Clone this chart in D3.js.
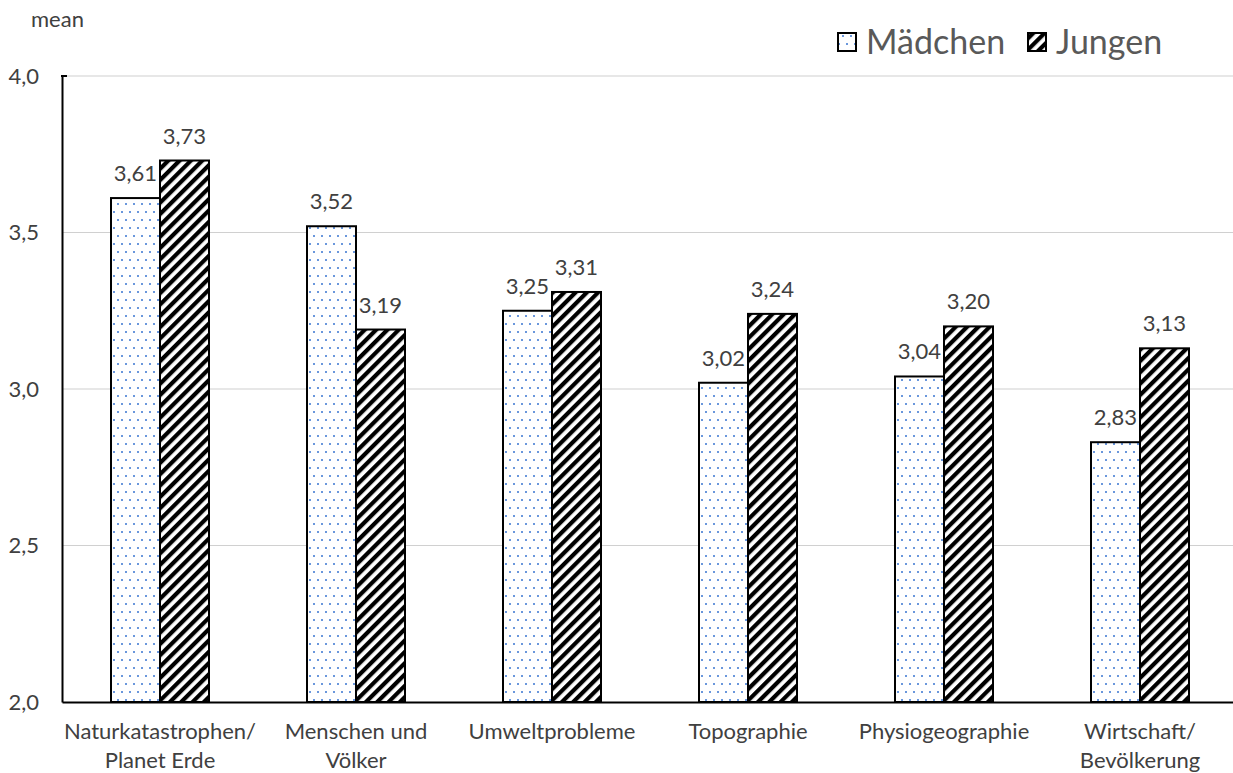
<!DOCTYPE html>
<html>
<head>
<meta charset="utf-8">
<script src="https://cdn.jsdelivr.net/npm/d3@7"></script>
<style>
  html, body { margin: 0; padding: 0; background: #fff; }
  svg { display: block; font-family: Lato, "Open Sans", sans-serif; }
</style>
</head>
<body>
<svg id="chart" width="1233" height="773"></svg>
<script>
// Mean interest per topic, girls vs. boys
const categories = [
  ["Naturkatastrophen/", "Planet Erde"],
  ["Menschen und", "Völker"],
  ["Umweltprobleme"],
  ["Topographie"],
  ["Physiogeographie"],
  ["Wirtschaft/", "Bevölkerung"]
];
const seriesNames = ["Mädchen", "Jungen"];
const maedchen = [3.61, 3.52, 3.25, 3.02, 3.04, 2.83];
const jungen = [3.73, 3.19, 3.31, 3.24, 3.20, 3.13];
const yTicks = [2.0, 2.5, 3.0, 3.5, 4.0];

const svg = d3.select("#chart");
const margin = { left: 62, right: 1238, top: 76, bottom: 702 };
const textColor = "#404040";
const fs = 22;

const defs = svg.append("defs");
// dotted fill
const dots = defs.append("pattern").attr("id", "dots")
  .attr("patternUnits", "userSpaceOnUse").attr("width", 16).attr("height", 16);
dots.append("rect").attr("width", 16).attr("height", 16).attr("fill", "#fff");
[[2, 3], [10, 3], [6, 11], [14, 11]].forEach(([cx, cy]) =>
  dots.append("rect").attr("x", cx).attr("y", cy).attr("width", 2).attr("height", 2).attr("fill", "#6a97dc"));
// diagonal hatch fill
const hatch = defs.append("pattern").attr("id", "hatch")
  .attr("patternUnits", "userSpaceOnUse").attr("width", 8).attr("height", 8)
  .attr("patternTransform", "rotate(45)");
hatch.append("rect").attr("width", 8).attr("height", 8).attr("fill", "#fff");
hatch.append("rect").attr("x", 0).attr("y", 0).attr("width", 4.2).attr("height", 8).attr("fill", "#000");

const x0 = d3.scaleBand().domain(d3.range(categories.length))
  .range([margin.left, margin.right]).paddingInner(0.5).paddingOuter(0.25);
const x1 = d3.scaleBand().domain(seriesNames).range([0, x0.bandwidth()]);
const y = d3.scaleLinear().domain([2.0, 4.0]).range([margin.bottom, margin.top]);

const fmt = v => d3.format(".2f")(v).replace(".", ",");
const fmtTick = v => d3.format(".1f")(v).replace(".", ",");

// gridlines
svg.append("g").selectAll("line").data(yTicks.filter(t => t > 2))
  .join("line")
  .attr("x1", margin.left).attr("x2", margin.right)
  .attr("y1", d => y(d)).attr("y2", d => y(d))
  .attr("stroke", "#d0d0d0").attr("stroke-width", 1.2);

// y axis
const yAxis = svg.append("g").attr("transform", `translate(${margin.left},0)`)
  .call(d3.axisLeft(y).tickValues(yTicks).tickFormat(fmtTick).tickSize(0).tickPadding(23));
yAxis.attr("font-family", null);
yAxis.select(".domain").attr("stroke", "#000").attr("stroke-width", 2);
yAxis.selectAll("text").attr("font-size", fs).attr("fill", textColor);
svg.append("line").attr("x1", margin.left - 1).attr("x2", margin.left + 5)
  .attr("y1", y(4.0)).attr("y2", y(4.0)).attr("stroke", "#000").attr("stroke-width", 2);

svg.append("text").attr("x", 31).attr("y", 27).attr("font-size", fs).attr("fill", textColor).text("mean");

// bars
const groups = svg.append("g").selectAll("g").data(categories.map((c, i) => i))
  .join("g").attr("transform", i => `translate(${x0(i)},0)`);

const rows = i => [
  { s: "Mädchen", v: maedchen[i], fill: "url(#dots)" },
  { s: "Jungen", v: jungen[i], fill: "url(#hatch)" }
];

groups.selectAll("rect").data(rows).join("rect")
  .attr("x", d => x1(d.s)).attr("width", x1.bandwidth())
  .attr("y", d => y(d.v)).attr("height", d => y(2.0) - y(d.v))
  .attr("fill", d => d.fill).attr("stroke", "#000").attr("stroke-width", 2);

groups.selectAll("text.val").data(rows).join("text").attr("class", "val")
  .attr("x", d => x1(d.s) + x1.bandwidth() / 2).attr("y", d => y(d.v) - 17)
  .attr("text-anchor", "middle").attr("font-size", fs).attr("fill", textColor)
  .text(d => fmt(d.v));

// x axis
const xAxis = svg.append("g").attr("transform", `translate(0,${margin.bottom})`)
  .call(d3.axisBottom(x0).tickSize(0).tickFormat(""));
xAxis.select(".domain").attr("stroke", "#000").attr("stroke-width", 2);

svg.append("g").selectAll("text").data(categories.map((c, i) => i)).join("text")
  .attr("x", i => x0(i) + x0.bandwidth() / 2).attr("y", 739)
  .attr("text-anchor", "middle").attr("font-size", fs).attr("fill", textColor)
  .selectAll("tspan").data(i => categories[i]).join("tspan")
  .attr("x", function () { return d3.select(this.parentNode).attr("x"); })
  .attr("dy", (d, k) => k === 0 ? 0 : 29).text(d => d);

// legend
const legend = svg.append("g");
const legendItems = [
  { name: seriesNames[0], fill: "url(#dots)", bx: 838, tx: 866 },
  { name: seriesNames[1], fill: "url(#hatch)", bx: 1028, tx: 1056 }
];
legend.selectAll("rect").data(legendItems).join("rect")
  .attr("x", d => d.bx).attr("y", 33).attr("width", 18).attr("height", 18)
  .attr("fill", d => d.fill).attr("stroke", "#000").attr("stroke-width", 2);
legend.selectAll("text").data(legendItems).join("text")
  .attr("x", d => d.tx).attr("y", 54).attr("font-size", 34).attr("fill", "#595959")
  .text(d => d.name);
</script>
</body>
</html>
